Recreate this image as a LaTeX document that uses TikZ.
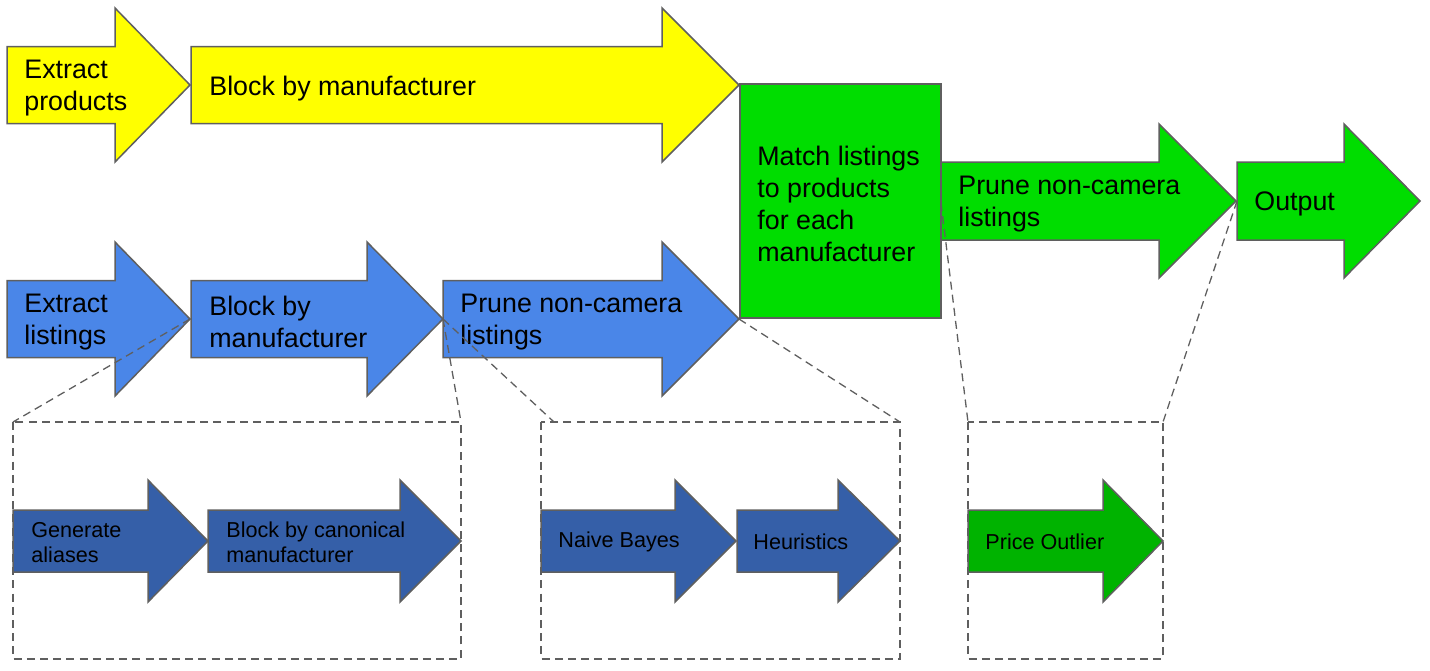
\documentclass[tikz,border=0pt]{standalone}
\usepackage{fontspec}
\setmainfont{Liberation Sans}
\definecolor{ylw}{HTML}{FFFF00}
\definecolor{grn}{HTML}{00DD00}
\definecolor{blu}{HTML}{4A86E8}
\definecolor{dblu}{HTML}{355FA8}
\definecolor{dgrn}{HTML}{00B300}
\definecolor{edgegray}{HTML}{5F5F5F}
\newcommand\flowarrow[8]{%
  \draw[shapebox, fill=#1] ({#2},{#5-#6}) -- ({#3},{#5-#6}) -- ({#3},{#5-#7}) -- ({#4},{#5})
    -- ({#3},{#5+#7}) -- ({#3},{#5+#6}) -- ({#2},{#5+#6}) -- cycle;
  \coordinate (#8tip) at ({#4},{#5});
  \coordinate (#8tail) at ({#2},{#5});}
\begin{document}
\begin{tikzpicture}[x=0.5pt,y=-0.5pt,
  shapebox/.style={draw=edgegray, line width=0.75pt, line join=miter},
  bigtext/.style={anchor=west, align=left, font=\fontsize{13.4}{16}\selectfont, inner sep=0pt, yshift=-1.7pt},
  smalltext/.style={anchor=west, align=left, font=\fontsize{10.8}{12.6}\selectfont, inner sep=0pt, yshift=-0.6pt},
  zoomline/.style={draw=edgegray, line width=0.65pt, dash pattern=on 4pt off 2.6pt},
]
\useasboundingbox (0,0) rectangle (1430,670);

% top row (products)
\flowarrow{ylw}{7}{115}{190}{85}{38.5}{77}{ya}
\flowarrow{ylw}{191}{662}{739}{85}{38.5}{77}{yb}
\node[bigtext] (yatext) at (24,85) {Extract\\products};
\node[bigtext] (ybtext) at (209,85) {Block by manufacturer};

% match box
\draw[shapebox, fill=grn] (740,84) rectangle (941,318);
\coordinate (matcheast) at (941,203);
\node[bigtext] (matchtext) at (757,201) {Match listings\\to products\\for each\\manufacturer};

% middle row (listings)
\flowarrow{blu}{7}{115}{190}{319}{38.5}{77}{ba}
\flowarrow{blu}{191}{367}{443}{319}{38.5}{77}{bb}
\flowarrow{blu}{443}{662}{739}{319}{38.5}{77}{bc}
\node[bigtext] (batext) at (24,319) {Extract\\listings};
\node[bigtext] (bbtext) at (209,319) {Block by\\manufacturer};
\node[bigtext] (bctext) at (460,319) {Prune non-camera\\listings};

% right row
\flowarrow{grn}{941}{1159}{1236}{201}{39}{77}{ga}
\flowarrow{grn}{1237}{1344}{1420}{201}{39}{77}{gb}
\node[bigtext] (gatext) at (958,201) {Prune non-camera\\listings};
\node[bigtext] (gbtext) at (1254,201) {Output};

% detail arrows
\flowarrow{dblu}{13}{148}{208}{541}{31}{61}{sa}
\flowarrow{dblu}{208}{400}{461}{541}{31}{61}{sb}
\flowarrow{dblu}{541}{675}{736}{541}{31}{61}{sc}
\flowarrow{dblu}{737}{838}{900}{541}{31}{61}{sd}
\flowarrow{dgrn}{968}{1103}{1163}{541}{31}{61}{se}
\node[smalltext] (satext) at (31,541) {Generate\\aliases};
\node[smalltext] (sbtext) at (226,541) {Block by canonical\\manufacturer};
\node[smalltext] (sctext) at (558,541) {Naive Bayes};
\node[smalltext] (sdtext) at (753,541) {Heuristics};
\node[smalltext] (setext) at (985,541) {Price Outlier};

% dashed detail boxes
\coordinate (daNW) at (13,422);  \coordinate (daNE) at (461,422);  \coordinate (daSE) at (461,659);
\coordinate (dbNW) at (541,422); \coordinate (dbNE) at (900,422);  \coordinate (dbSE) at (900,659);
\coordinate (dcNW) at (968,422); \coordinate (dcNE) at (1163,422); \coordinate (dcSE) at (1163,659);
\coordinate (dbIn) at (554,422);
\draw[zoomline] (daNW) rectangle (daSE);
\draw[zoomline] (dbNW) rectangle (dbSE);
\draw[zoomline] (dcNW) rectangle (dcSE);

% zoom connectors
\draw[zoomline] (batip) -- (daNW);
\draw[zoomline] (bbtip) -- (daNE);
\draw[zoomline] (bctail) -- (dbIn);
\draw[zoomline] (bctip) -- (dbNE);
\draw[zoomline] (matcheast) -- (dcNW);
\draw[zoomline] (gbtail) -- (dcNE);
\end{tikzpicture}
\end{document}
